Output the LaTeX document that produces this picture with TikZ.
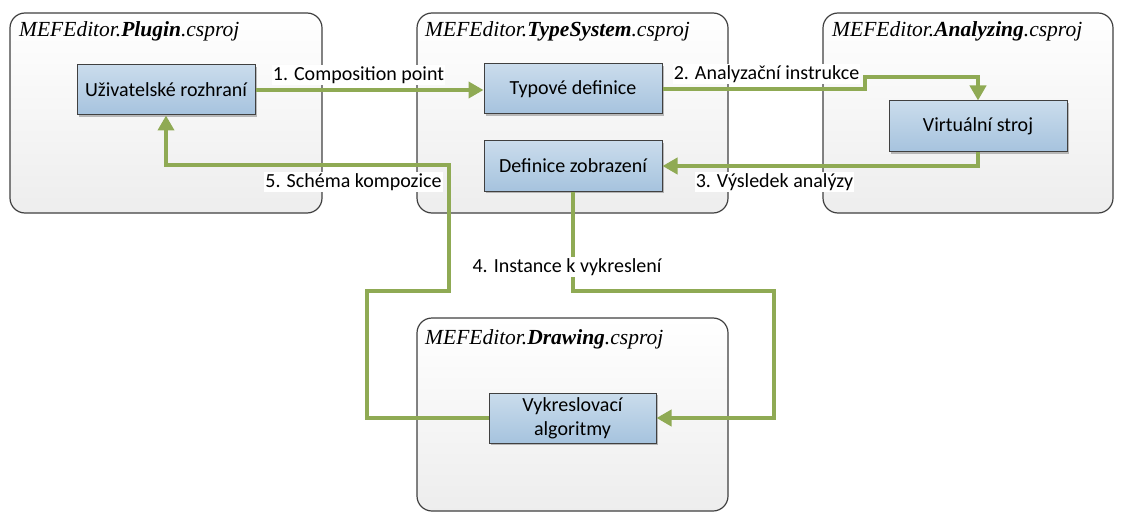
\documentclass[tikz,border=0pt]{standalone}
\usepackage{fontspec}
\setmainfont{Liberation Serif}
\newfontfamily\calfont{Carlito}
\usetikzlibrary{arrows.meta,shadows}
\definecolor{conn}{RGB}{143,170,84}
\definecolor{boxtop}{RGB}{202,220,236}
\definecolor{boxbot}{RGB}{166,195,222}
\definecolor{frame}{RGB}{64,64,64}
\tikzset{
  project/.style={draw=frame, line width=1.2pt, rounded corners=15pt, top color=white, bottom color=black!7},
  title/.style={anchor=base west, inner sep=0pt, font=\fontsize{21.5}{24}\selectfont\itshape},
  compbox/.style={draw=frame, line width=1pt, top color=boxtop, bottom color=boxbot,
     font=\calfont\fontsize{20}{23}\selectfont, align=center, inner sep=0pt,
     drop shadow={shadow xshift=2pt, shadow yshift=-2pt, opacity=0.25, fill=black}},
  link/.style={draw=conn, line width=4pt},
  linkarrow/.style={link, -{Triangle[length=15pt,width=16pt]}},
  lbl/.style={fill=white, inner sep=1pt, font=\calfont\fontsize{20}{23}\selectfont}
}
\begin{document}
\begin{tikzpicture}[x=1pt,y=-1pt]
\useasboundingbox (0,0) rectangle (1123,513);
% containers
\path[project] (10,13) rectangle (322,213);
\path[project] (417,13) rectangle (728,213);
\path[project] (823,13) rectangle (1113,213);
\path[project] (417,318) rectangle (728,511);
% titles
\node[title] (t1) at (19,37) {MEFEditor.\textbf{Plugin}.csproj};
\node[title] (t2) at (425,37) {MEFEditor.\textbf{TypeSystem}.csproj};
\node[title] (t3) at (832,37) {MEFEditor.\textbf{Analyzing}.csproj};
\node[title] (t4) at (425,344) {MEFEditor.\textbf{Drawing}.csproj};
% component boxes
\node[compbox, minimum width=178pt, minimum height=50pt] (uziv) at (166,90) {Uživatelské rozhraní};
\node[compbox, minimum width=178pt, minimum height=50pt] (typ) at (573,89) {Typové definice};
\node[compbox, minimum width=178pt, minimum height=50pt] (defz) at (573,166) {Definice zobrazení};
\node[compbox, minimum width=178pt, minimum height=51pt] (virt) at (978,126.5) {Virtuální stroj};
\node[compbox, minimum width=167pt, minimum height=50pt, font=\calfont\fontsize{20}{24}\selectfont] (vyk) at (572.5,418) {Vykreslovací\\algoritmy};
% bend points
\coordinate (b2a) at (865,89);
\coordinate (b2b) at (865,77);
\coordinate (b4a) at (573,291);
\coordinate (b4b) at (774,291);
\coordinate (b5a) at (367,418);
\coordinate (b5b) at (367,291);
\coordinate (b5c) at (449,291);
\coordinate (b5d) at (449,165);
% connectors
\draw[linkarrow] (uziv.east) -- (uziv.east -| typ.west);
\draw[linkarrow] (typ.east) -- (b2a) -- (b2b) -| (virt.north);
\draw[linkarrow] (virt.south) |- (defz.east);
\draw[linkarrow] (defz.south) -- (b4a) -- (b4b) |- (vyk.east);
\draw[linkarrow] (vyk.west) -- (b5a) -- (b5b) -- (b5c) -- (b5d) -| (uziv.south);
% labels
\node[lbl] (l1) at (358.5,75) {1. Composition point};
\node[lbl] (l2) at (766.5,74) {2. Analyzační instrukce};
\node[lbl] (l3) at (774.5,182) {3. Výsledek analýzy};
\node[lbl] (l4) at (567,267) {4. Instance k vykreslení};
\node[lbl] (l5) at (353.5,182) {5. Schéma kompozice};
\end{tikzpicture}
\end{document}
